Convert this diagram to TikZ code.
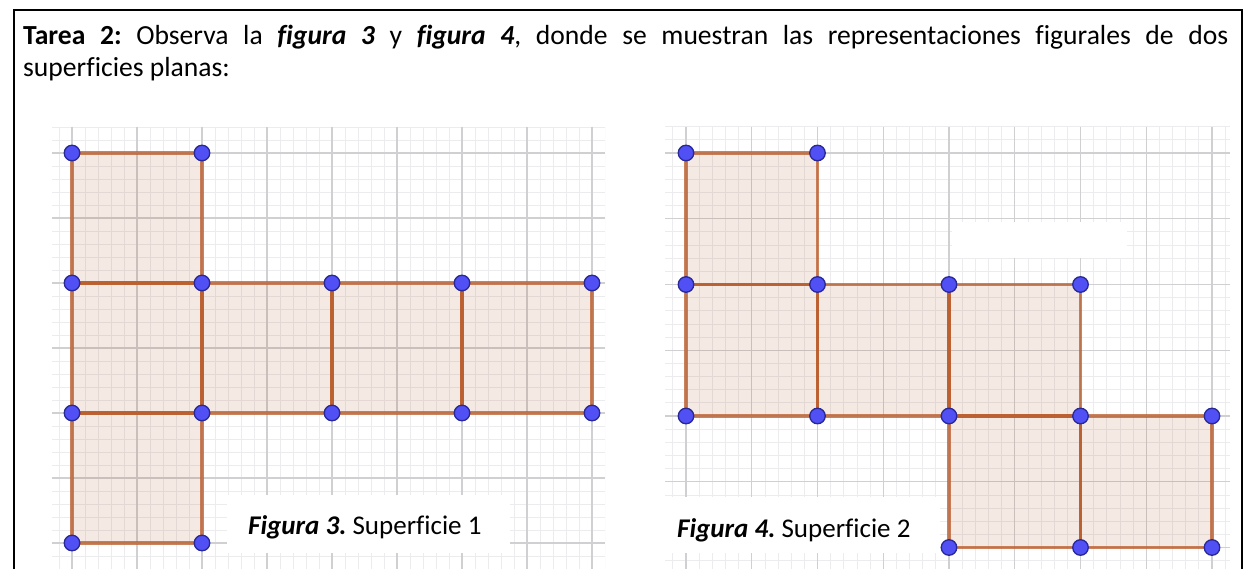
\documentclass[tikz,border=0pt]{standalone}
\usepackage{fontspec}
\setmainfont{Carlito}[Ligatures=NoCommon]
\frenchspacing
\definecolor{edgec}{RGB}{185,90,40}
\definecolor{fillc}{RGB}{175,75,25}
\definecolor{vfill}{RGB}{80,80,245}
\definecolor{vdraw}{RGB}{40,40,150}
\definecolor{gminor}{RGB}{236,236,238}
\definecolor{gmajor}{RGB}{208,208,210}
\begin{document}
\begin{tikzpicture}[x=1pt,y=-1pt,
  sqfill/.style={fill=fillc, fill opacity=0.12},
  sqedge/.style={draw=edgec, draw opacity=0.75, line width=3.2pt},
  vtx/.style={circle, fill=vfill, draw=vdraw, line width=1.3pt, inner sep=0pt, minimum size=15.5pt},
  minorg/.style={draw=gminor, line width=0.8pt},
  majorg/.style={draw=gmajor, line width=1.1pt},
  txt/.style={font=\fontsize{27}{32}\selectfont, anchor=base west, inner sep=0pt},
  htxt/.style={font=\fontsize{27.6}{32}\selectfont, anchor=base west, inner sep=0pt},
  capbox/.style={fill=white, draw=none}]
\useasboundingbox (0,0) rectangle (1248,569);
\fill[white] (0,0) rectangle (1248,569);
% frame
\draw[line width=2pt] (13.5,569) -- (13.5,10) -- (1242,10) -- (1242,569);
% header
\node[htxt] (h1) at (23,45) {\makebox[1205pt][s]{\textbf{Tarea 2:} Observa la \textbf{\textit{figura 3}} y \textbf{\textit{figura 4}}, donde se muestran las representaciones figurales de dos}};
\node[htxt] (h2) at (23,77) {superficies planas:};
% grid figure 3
\begin{scope}
\clip (52,127) rectangle (605,569);
\foreach \i in {-2,...,42} {\draw[minorg] (72+13*\i,127) -- (72+13*\i,569);}
\foreach \j in {-2,...,33} {\draw[minorg] (52,153+13*\j) -- (605,153+13*\j);}
\foreach \i in {-1,...,9} {\draw[majorg] (72+65*\i,127) -- (72+65*\i,569);}
\foreach \j in {-1,...,7} {\draw[majorg] (52,153+65*\j) -- (605,153+65*\j);}
\end{scope}
% grid figure 4
\begin{scope}
\clip (665,127) rectangle (1230,569);
\foreach \i in {-2,...,42} {\draw[minorg] (686+13.15*\i,127) -- (686+13.15*\i,569);}
\foreach \j in {-2,...,33} {\draw[minorg] (665,153+13.15*\j) -- (1230,153+13.15*\j);}
\foreach \i in {-1,...,9} {\draw[majorg] (686+65.75*\i,127) -- (686+65.75*\i,569);}
\foreach \j in {-1,...,7} {\draw[majorg] (665,153+65.75*\j) -- (1230,153+65.75*\j);}
\end{scope}
\fill[white] (952,222) rectangle (1127,258);
% caption boxes
\fill[capbox] (227,495) rectangle (510,553);
\fill[capbox] (662,497) rectangle (940,553);
% figure 3 squares
\foreach \i/\j in {0/0,0/1,1/1,2/1,3/1,0/2} {
  \fill[sqfill] (72+130*\i,153+130*\j) rectangle ++(130,130);
}
\foreach \i/\j in {0/0,0/1,1/1,2/1,3/1,0/2} {
  \draw[sqedge] (72+130*\i,153+130*\j) rectangle ++(130,130);
}
% figure 4 squares
\foreach \i/\j in {0/0,0/1,1/1,2/1,2/2,3/2} {
  \fill[sqfill] (686+131.5*\i,153+131.5*\j) rectangle ++(131.5,131.5);
}
\foreach \i/\j in {0/0,0/1,1/1,2/1,2/2,3/2} {
  \draw[sqedge] (686+131.5*\i,153+131.5*\j) rectangle ++(131.5,131.5);
}
% vertices figure 3
\foreach \i/\j in {0/0,1/0,0/1,1/1,2/1,3/1,4/1,0/2,1/2,2/2,3/2,4/2,0/3,1/3} {
  \node[vtx] (p-\i-\j) at (72+130*\i,153+130*\j) {};
}
% vertices figure 4
\foreach \i/\j in {0/0,1/0,0/1,1/1,2/1,3/1,0/2,1/2,2/2,3/2,4/2,2/3,3/3,4/3} {
  \node[vtx] (q-\i-\j) at (686+131.5*\i,153+131.5*\j) {};
}
% captions
\node[txt] (c3) at (248,534) {\textbf{\textit{Figura 3.}} Superficie 1};
\node[txt] (c4) at (677,537) {\textbf{\textit{Figura 4.}} Superficie 2};
\end{tikzpicture}
\end{document}
